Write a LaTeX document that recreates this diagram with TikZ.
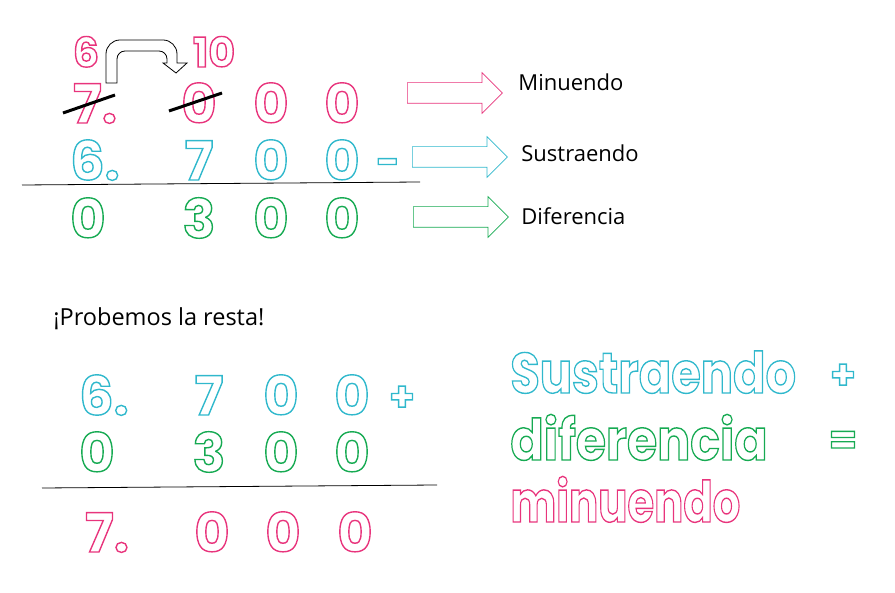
\documentclass[tikz,border=0pt]{standalone}
\usepackage{fontspec}
\setmainfont{Poppins}
\newfontfamily\labelfont{Open Sans}
\usetikzlibrary{shapes.arrows}

\definecolor{rosa}{RGB}{232,52,124}
\definecolor{celeste}{RGB}{48,184,204}
\definecolor{verde}{RGB}{22,170,82}

% hollow letters: stroke only
\newcommand{\hueco}[2]{{\color{#1}\special{pdf:literal direct 1 Tr 1.4 w}#2\special{pdf:literal direct 0 Tr}}}

\begin{document}
\begin{tikzpicture}[x=1pt,y=-1pt,line width=0.8pt,
  dig/.style={anchor=base,inner sep=0pt,font=\bfseries\fontsize{54}{54}\selectfont},
  chico/.style={anchor=base,inner sep=0pt,font=\bfseries\fontsize{41}{41}\selectfont},
  palabra/.style={anchor=base west,inner sep=0pt,font=\bfseries\fontsize{57}{57}\selectfont},
  etiqueta/.style={anchor=base west,inner sep=0pt,font=\labelfont\fontsize{22}{22}\selectfont},
  flecha/.style={single arrow,draw=#1,fill=white,line width=0.7pt,minimum height=95pt,
    minimum width=40pt,inner sep=10pt,single arrow head extend=10pt,anchor=west}]
  \useasboundingbox (0,0) rectangle (895,593);

  % prestamo
  \node[chico] (seis) at (86,67) {\hueco{rosa}{6}};
  \node[chico] (diez) at (214,67) {\hueco{rosa}{10}};
  \draw[fill=white] (106,83) [rounded corners=14pt] -- (106,40) -- (177,40)
    [sharp corners] -- (177,63) -- (187,63) -- (176,73) -- (163,63) -- (167,63)
    [rounded corners=8pt] -- (167,51) -- (117,51) [sharp corners] -- (117,83) -- cycle;

  % minuendo
  \node[dig] (m1) at (95,123) {\hueco{rosa}{7.}};
  \node[dig] (m2) at (199,123) {\hueco{rosa}{0}};
  \node[dig] (m3) at (271,123) {\hueco{rosa}{0}};
  \node[dig] (m4) at (342,123) {\hueco{rosa}{0}};
  \draw[line width=3pt] (63,113) -- (115,95);
  \draw[line width=3pt] (169,111) -- (222,93);

  % sustraendo
  \node[dig] (s1) at (95,180) {\hueco{celeste}{6.}};
  \node[dig] (s2) at (199,180) {\hueco{celeste}{7}};
  \node[dig] (s3) at (271,180) {\hueco{celeste}{0}};
  \node[dig] (s4) at (342,180) {\hueco{celeste}{0}};
  \node[chico] (menos) at (388,176) {\hueco{celeste}{-}};
  \draw (22,185) -- (420,182);

  % diferencia
  \node[dig] (d1) at (88,238) {\hueco{verde}{0}};
  \node[dig] (d2) at (199,238) {\hueco{verde}{3}};
  \node[dig] (d3) at (271,238) {\hueco{verde}{0}};
  \node[dig] (d4) at (342,238) {\hueco{verde}{0}};

  % flechas y nombres
  \node[flecha=rosa] (fm) at (407,93) {};
  \node[flecha=celeste] (fs) at (412,157) {};
  \node[flecha=verde] (fd) at (413,217) {};
  \node[etiqueta] (lm) at (518,91) {Minuendo};
  \node[etiqueta] (ls) at (521,162) {Sustraendo};
  \node[etiqueta] (ld) at (521,225) {Diferencia};

  % prueba
  \node[etiqueta,font=\labelfont\fontsize{23.5}{23.5}\selectfont] (prueba) at (53,326) {¡Probemos la resta!};
  \node[dig] (a1) at (104,415) {\hueco{celeste}{6.}};
  \node[dig] (a2) at (209,415) {\hueco{celeste}{7}};
  \node[dig] (a3) at (281,415) {\hueco{celeste}{0}};
  \node[dig] (a4) at (352,415) {\hueco{celeste}{0}};
  \node[chico] (mas) at (402,411) {\hueco{celeste}{+}};
  \node[dig] (b1) at (97,472) {\hueco{verde}{0}};
  \node[dig] (b2) at (209,472) {\hueco{verde}{3}};
  \node[dig] (b3) at (281,472) {\hueco{verde}{0}};
  \node[dig] (b4) at (352,472) {\hueco{verde}{0}};
  \draw (42,488) -- (437,485);
  \node[dig] (c1) at (107,552) {\hueco{rosa}{7.}};
  \node[dig] (c2) at (212,552) {\hueco{rosa}{0}};
  \node[dig] (c3) at (283,552) {\hueco{rosa}{0}};
  \node[dig] (c4) at (355,552) {\hueco{rosa}{0}};

  % regla
  \node[palabra] (ws) at (510,393) {\scalebox{0.84}[1]{\hueco{celeste}{Sustraendo}}};
  \node[chico] (wmas) at (843,389) {\hueco{celeste}{+}};
  \node[palabra] (wd) at (510,460) {\scalebox{0.86}[1]{\hueco{verde}{diferencia}}};
  \node[chico] (wigual) at (843,454) {\hueco{verde}{=}};
  \node[palabra] (wm) at (510,522) {\scalebox{0.76}[1]{\hueco{rosa}{minuendo}}};
\end{tikzpicture}
\end{document}
